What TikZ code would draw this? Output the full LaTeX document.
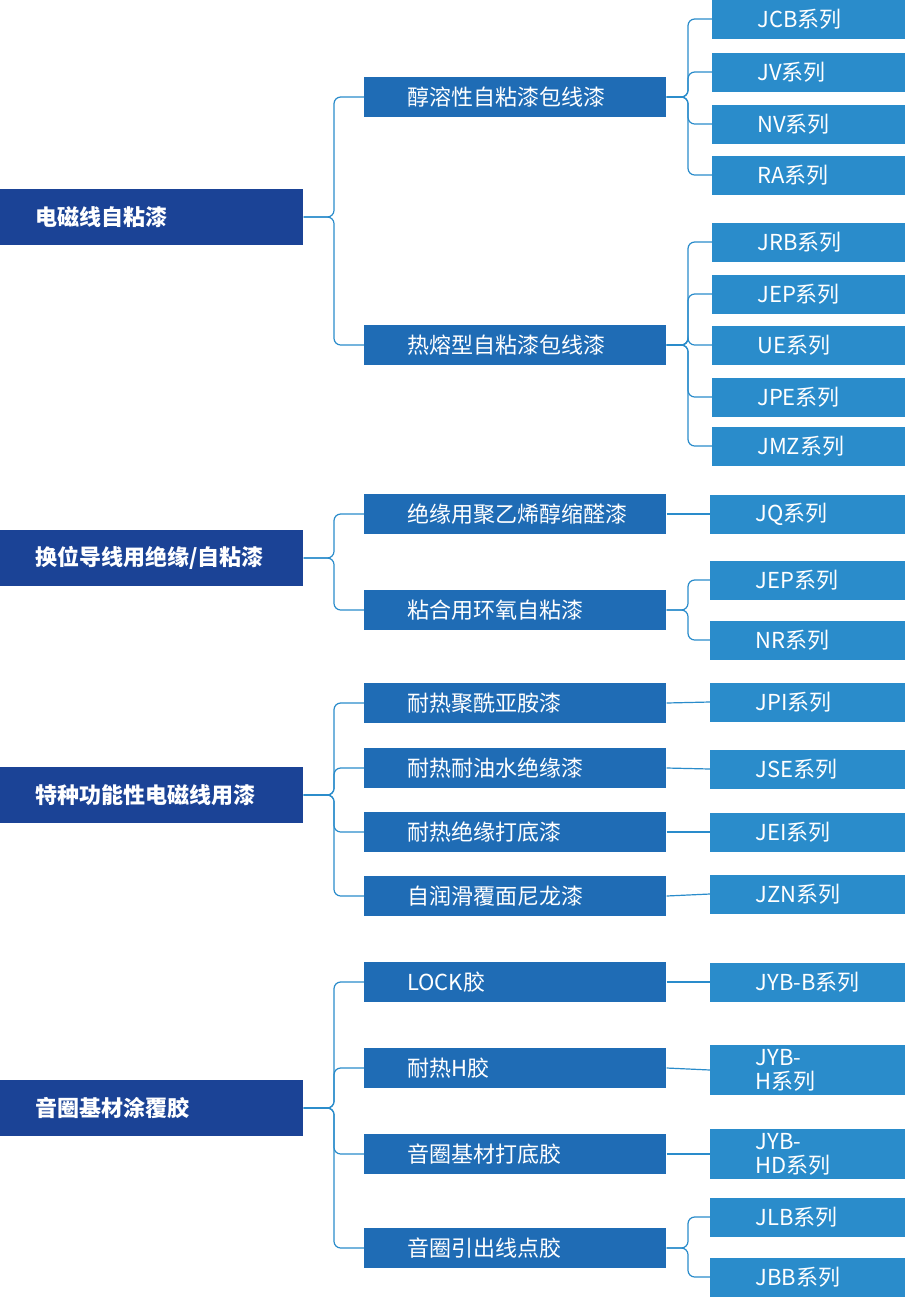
\documentclass[tikz,border=0pt]{standalone}
\usepackage{fontspec}
\setmainfont{Noto Sans CJK SC}
\begin{document}
\begin{tikzpicture}[x=0.75pt,y=-0.75pt,
  lone/.style={fill=c1,text=white,font=\fontsize{16.5}{18}\selectfont\bfseries,minimum width=303*0.75pt,minimum height=56*0.75pt,inner xsep=35*0.75pt,text width=233*0.75pt,align=left,anchor=west},
  ltwo/.style={fill=c2,text=white,font=\fontsize{16.5}{18}\selectfont,minimum height=40*0.75pt,text width=216*0.75pt,inner xsep=43*0.75pt,align=left,anchor=west},
  lthree/.style={fill=c3,text=white,font=\fontsize{16.5}{18}\selectfont,minimum height=39*0.75pt,text width=104*0.75pt,inner xsep=45*0.75pt,align=left,anchor=west},
  conn/.style={draw=c3,line width=0.9pt,rounded corners=5pt}]
\definecolor{c1}{HTML}{1B4396}
\definecolor{c2}{HTML}{1F6CB5}
\definecolor{c3}{HTML}{2A8CCB}
\useasboundingbox (0,0) rectangle (905,1297);
\fill[white] (0,0) rectangle (905,1297);
% level 1
\node[lone] (a1) at (0,217) {电磁线自粘漆};
\node[lone] (a2) at (0,558) {换位导线用绝缘/自粘漆};
\node[lone] (a3) at (0,795) {特种功能性电磁线用漆};
\node[lone] (a4) at (0,1108) {音圈基材涂覆胶};
% level 2
\foreach \n/\y/\t in {b1/97/醇溶性自粘漆包线漆,b2/345/热熔型自粘漆包线漆,b3/514/绝缘用聚乙烯醇缩醛漆,b4/610/粘合用环氧自粘漆,b5/703/耐热聚酰亚胺漆,b6/768/耐热耐油水绝缘漆,b7/832/耐热绝缘打底漆,b8/896/自润滑覆面尼龙漆,b9/982/LOCK胶,b10/1068/耐热H胶,b11/1154/音圈基材打底胶,b12/1248/音圈引出线点胶}
  \node[ltwo] (\n) at (364,\y) {\t};
% level 3
\foreach \n/\y/\t in {c1/19/JCB系列,c2/72/JV系列,c3/124/NV系列,c4/175/RA系列,c5/242/JRB系列,c6/294/JEP系列,c7/345/UE系列,c8/397/JPE系列,c9/446/JMZ系列}
  \node[lthree] (\n) at (712,\y) {\t};
\foreach \n/\y/\t in {d1/514/JQ系列,d2/580/JEP系列,d3/640/NR系列,d4/702/JPI系列,d5/769/JSE系列,d6/832/JEI系列,d7/894/JZN系列,d8/982/JYB-B系列,d9/1070/JYB-H系列,d10/1154/JYB-HD系列,d11/1217/JLB系列,d12/1277/JBB系列}
  \node[lthree,minimum width=195*0.75pt] (\n) at (710,\y) {\t};
\coordinate (s1) at (334,0);
\coordinate (s2) at (688,0);
% level1 -> level2
\foreach \p/\c in {a1/b1,a1/b2,a2/b3,a2/b4,a3/b5,a3/b6,a3/b7,a3/b8,a4/b9,a4/b10,a4/b11,a4/b12}
  \draw[conn] (\p.east) -- (\p.east -| s1) |- (\c.west);
% level2 -> level3
\foreach \p/\c in {b1/c1,b1/c2,b1/c3,b1/c4,b2/c5,b2/c6,b2/c7,b2/c8,b2/c9,b4/d2,b4/d3,b12/d11,b12/d12}
  \draw[conn] (\p.east) -- (\p.east -| s2) |- (\c.west);
\foreach \p/\c in {b3/d1,b5/d4,b6/d5,b7/d6,b8/d7,b9/d8,b10/d9,b11/d10}
  \draw[conn] (\p.east) -- (\c.west);
\end{tikzpicture}
\end{document}
